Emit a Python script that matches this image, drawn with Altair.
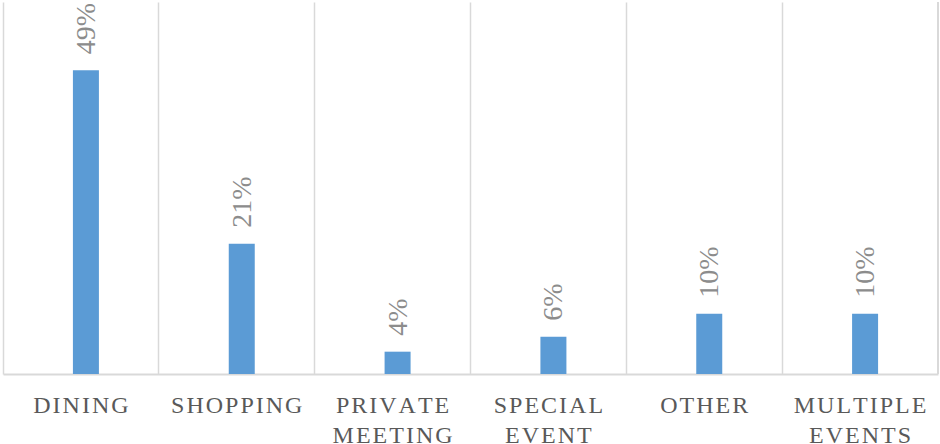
import altair as alt
import pandas as pd

categories = ["DINING", "SHOPPING", "PRIVATE MEETING", "SPECIAL EVENT", "OTHER", "MULTIPLE EVENTS"]
values = [0.49, 0.21, 0.036, 0.06, 0.097, 0.097]

HAIR = "\u200a"


def spaced(name):
    return "|".join(HAIR.join(list(w)) for w in name.split(" "))


df = pd.DataFrame({
    "category": [spaced(c) for c in categories],
    "value": values,
})

W, H = 935, 372
order = list(df["category"])

x_enc = alt.X(
    "category:N",
    sort=order,
    scale=alt.Scale(paddingInner=0, paddingOuter=0),
    axis=alt.Axis(
        title=None,
        ticks=False,
        grid=True,
        bandPosition=0,
        gridColor="#d9d9d9",
        gridWidth=1.5,
        domainColor="#d9d9d9",
        domainWidth=2,
        labelAngle=0,
        labelFont="Liberation Serif",
        labelFontSize=24,
        labelColor="#595959",
        labelPadding=19,
        labelLineHeight=30,
        labelExpr="split(datum.label, '|')",
    ),
)
y_enc = alt.Y(
    "value:Q",
    scale=alt.Scale(domain=[0, 0.6]),
    axis=None,
)

bars = alt.Chart(df).mark_bar(size=26, xOffset=5, color="#5b9bd5").encode(x=x_enc, y=y_enc)

labels = alt.Chart(df).mark_text(
    angle=270,
    align="left",
    baseline="middle",
    dx=16,
    xOffset=6,
    font="Liberation Serif",
    fontSize=28,
    color="#8c8c8c",
).encode(x=alt.X("category:N", sort=order), y="value:Q", text=alt.Text("value:Q", format=".0%"))

edge = alt.Chart(df).mark_rule(color="#d9d9d9", strokeWidth=1.5).encode(
    x=alt.value(W), y=alt.value(0), y2=alt.value(H)
)

chart = alt.layer(bars, labels, edge).properties(
    width=W,
    height=H,
    autosize=alt.AutoSizeParams(type="none"),
    padding={"left": 3, "top": 2, "right": 2, "bottom": 70},
).configure_view(stroke=None)

chart.save("out.html", embed_options={"renderer": "svg", "actions": False})
